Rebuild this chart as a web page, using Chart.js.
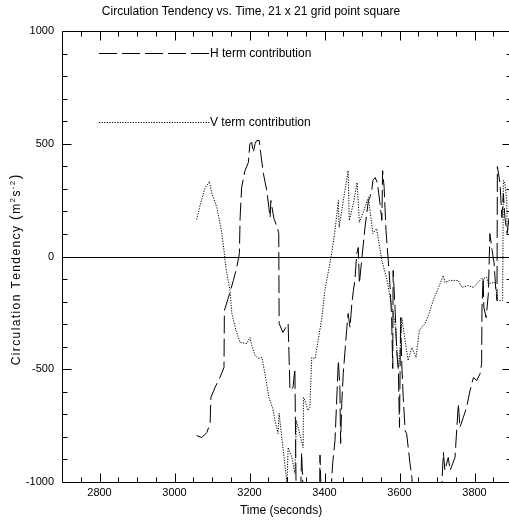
<!DOCTYPE html>
<html><head><meta charset="utf-8">
<script src="https://cdn.jsdelivr.net/npm/chart.js@4"></script>
<style>html,body{margin:0;padding:0;overflow:hidden;background:#fff}#wrap{width:512px;height:520px;position:relative}</style>
</head><body><div id="wrap"><canvas id="c"></canvas></div>
<script>
// ---- data ----
const hTime = [3059,3073,3086,3095,3097,3108,3121,3132,3133,3143,3157,3166,3173,3175,3179,3188,3197,3201,3206,3210,3215,3219,3226,3230,3237,3246,3255,3257,3265,3274,3278,3279,3289,3303,3308,3316,3321,3324,3329,3336,3339,3343,3361,3387,3388,3391,3415,3422,3428,3437,3441,3443,3446,3450,3459,3463,3468,3473,3477,3481,3486,3490,3493,3499,3508,3517,3521,3526,3529,3535,3541,3548,3553,3555,3559,3564,3570,3575,3579,3582,3583,3588,3593,3597,3600,3603,3606,3610,3615,3619,3628,3633,3637,3668,3708,3713,3717,3721,3730,3735,3748,3757,3761,3770,3779,3788,3797,3806,3815,3819,3820,3823,3825,3831,3837,3841,3847,3852,3857,3860,3861,3868,3873,3877,3881,3887,3892,3900];
const hValue = [-794,-803,-781,-741,-625,-581,-537,-492,-240,-186,-106,-49,13,173,306,381,417,501,506,461,501,514,514,457,368,293,173,248,169,129,102,-297,-337,-297,-594,-581,-497,-993,-1082,-1080,-870,-1050,-1150,-1050,-880,-1050,-1100,-914,-816,-461,-581,-829,-652,-519,-328,-253,-315,-208,-151,-106,13,40,-120,-18,129,248,262,293,337,350,328,235,160,381,306,115,-18,-137,-271,-497,-62,-226,-430,-506,-758,-271,-475,-625,-772,-785,-918,-980,-1082,-1150,-1100,-1007,-869,-949,-891,-949,-891,-652,-758,-714,-670,-594,-537,-550,-519,-475,-226,-93,-226,-271,-164,102,27,-27,-151,-195,399,324,173,279,173,102,173,120];
const vTime = [3059,3068,3081,3093,3099,3113,3126,3132,3137,3148,3153,3164,3175,3193,3201,3206,3215,3223,3233,3241,3252,3262,3268,3276,3279,3287,3300,3303,3313,3321,3325,3335,3343,3344,3348,3356,3361,3366,3375,3383,3393,3401,3419,3428,3437,3439,3446,3463,3466,3477,3487,3493,3503,3517,3529,3539,3553,3567,3575,3588,3593,3597,3601,3606,3615,3623,3633,3644,3653,3668,3677,3690,3703,3717,3721,3735,3757,3766,3783,3797,3819,3833,3837,3855,3861,3875,3877,3881,3886,3887,3892,3900];
const vValue = [164,226,302,333,284,217,106,27,-49,-151,-253,-328,-381,-386,-359,-395,-439,-452,-448,-519,-625,-674,-727,-785,-696,-816,-1005,-847,-891,-962,-727,-794,-847,-625,-639,-683,-670,-448,-452,-373,-271,-151,13,115,248,129,204,381,160,235,328,151,195,262,102,124,-18,-106,-182,-297,-404,-492,-430,-271,-373,-461,-404,-448,-328,-297,-262,-195,-142,-84,-115,-106,-106,-137,-129,-137,-98,-93,-120,-115,-195,-195,337,324,248,129,115,110];
const seriesNames = ['H term contribution', 'V term contribution'];
const xTickLabels = [2800,3000,3200,3400,3600,3800];
const xMinorTicks = [2750,2850,2900,2950,3050,3100,3150,3250,3300,3350,3450,3500,3550,3650,3700,3750,3850];
const yTickLabels = [-1000,-500,0,500,1000];
const yMinorTicks = [-900,-800,-700,-600,-400,-300,-200,-100,100,200,300,400,600,700,800,900];
const titleText = 'Circulation Tendency vs. Time, 21 x 21 grid point square';
const xTitleText = 'Time (seconds)';

const FONT = "'Liberation Sans', Arial, Helvetica, sans-serif";
Chart.defaults.font.family = FONT;
Chart.defaults.color = '#000';

const toPts = (t, v) => t.map((x, i) => ({x: x, y: v[i]}));

const decor = {
  id: 'decor',
  afterDraw(chart) {
    const {ctx, chartArea: a, scales: {x, y}} = chart;
    const L = Math.round(a.left) + 0.5, R = Math.round(a.right) - 0.5;
    const T = Math.round(a.top) + 0.5, B = Math.round(a.bottom) + 0.5;
    ctx.save();
    ctx.strokeStyle = '#000'; ctx.lineWidth = 1; ctx.setLineDash([]);
    const seg = (x1, y1, x2, y2) => { ctx.beginPath(); ctx.moveTo(x1, y1); ctx.lineTo(x2, y2); ctx.stroke(); };
    // frame
    seg(L, T, R, T); seg(L, T, L, B); seg(L, B, R, B); seg(R, T, R, B);
    // zero line
    const y0 = Math.round(y.getPixelForValue(0)) + 0.5;
    seg(L, y0, R, y0);
    // x ticks (inward, top and bottom)
    const xt = (v, len) => { const p = Math.round(x.getPixelForValue(v)) + 0.5; seg(p, B, p, B - len); seg(p, T, p, T + len); };
    xTickLabels.forEach(v => xt(v, 9)); xMinorTicks.forEach(v => xt(v, 5));
    const yt = (v, len) => { const p = Math.round(y.getPixelForValue(v)) + 0.5; seg(L, p, L + len, p); seg(R, p, R - len, p); };
    yTickLabels.forEach(v => yt(v, 9)); yMinorTicks.forEach(v => yt(v, 5));
    // legend
    const ds = chart.data.datasets;
    const legY = [53, 122];
    ds.forEach((d, i) => {
      ctx.setLineDash(d.borderDash || []);
      ctx.beginPath(); ctx.moveTo(99, legY[i] + 0.5); ctx.lineTo(210, legY[i] + 0.5); ctx.stroke();
      ctx.setLineDash([]);
      ctx.fillStyle = '#000'; ctx.font = '12px ' + FONT; ctx.textBaseline = 'middle'; ctx.textAlign = 'left';
      ctx.fillText(d.label, 210, legY[i] + 0.5);
    });
    // title
    ctx.font = '12px ' + FONT; ctx.textAlign = 'center'; ctx.textBaseline = 'middle';
    ctx.fillText(titleText, 251, 12);
    // x title
    ctx.fillText(xTitleText, 281, 511);
    // y title (rotated, with superscripts)
    ctx.save();
    ctx.translate(16, 270); ctx.rotate(-Math.PI / 2);
    const parts = [
      {t: 'Circulation Tendency ', s: 12, dy: 0},
      {t: '(', s: 14, dy: 0},
      {t: 'm', s: 12, dy: 0},
      {t: '2', s: 8, dy: -5},
      {t: 's', s: 12, dy: 0},
      {t: '-2', s: 8, dy: -5},
      {t: ')', s: 14, dy: 0}
    ];
    const sp = 1.4;
    let total = 0;
    const chars = [];
    parts.forEach(p => { ctx.font = p.s + 'px ' + FONT; for (const c of p.t) { const w = ctx.measureText(c).width; chars.push({c, s: p.s, dy: p.dy, w}); total += w + sp; } });
    total -= sp;
    let cx = -total / 2;
    ctx.textAlign = 'left'; ctx.textBaseline = 'alphabetic';
    chars.forEach(ch => { ctx.font = ch.s + 'px ' + FONT; ctx.fillText(ch.c, cx, 4 + ch.dy); cx += ch.w + sp; });
    ctx.restore();
    ctx.restore();
  }
};

new Chart(document.getElementById('c'), {
  type: 'line',
  data: {
    datasets: [
      {label: seriesNames[0], data: toPts(hTime, hValue), borderColor: '#000', borderWidth: 1, borderDash: [18, 5], pointRadius: 0, tension: 0, fill: false},
      {label: seriesNames[1], data: toPts(vTime, vValue), borderColor: '#000', borderWidth: 1, borderDash: [1.2, 1.4], pointRadius: 0, tension: 0, fill: false}
    ]
  },
  options: {
    responsive: true, maintainAspectRatio: false, animation: false,
    layout: {padding: {top: 31, right: 0, left: 0, bottom: 0}},
    plugins: {legend: {display: false}, title: {display: false}, tooltip: {enabled: false}},
    scales: {
      x: {
        type: 'linear', min: 2700, max: 3900,
        grid: {display: false, drawTicks: false}, border: {display: false},
        afterBuildTicks: s => { s.ticks = xTickLabels.map(v => ({value: v})); },
        afterFit: s => { s.height = 38; },
        ticks: {padding: 4, font: {size: 11}, color: '#000', maxRotation: 0, autoSkip: false, callback: v => String(v)}
      },
      y: {
        type: 'linear', min: -1000, max: 1000,
        grid: {display: false, drawTicks: false}, border: {display: false},
        afterBuildTicks: s => { s.ticks = yTickLabels.map(v => ({value: v})); },
        afterFit: s => { s.width = 62; },
        ticks: {padding: 8, font: {size: 11}, color: '#000', autoSkip: false, callback: v => String(v)}
      }
    }
  },
  plugins: [decor]
});
</script>
</body></html>
